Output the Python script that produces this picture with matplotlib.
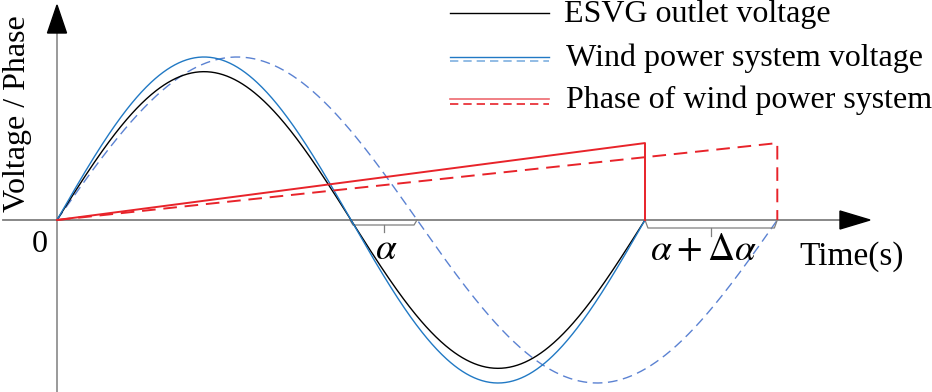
import numpy as np
import matplotlib
matplotlib.use("Agg")
import matplotlib.pyplot as plt
from matplotlib.patches import Polygon

plt.rcParams['font.family'] = ['Liberation Serif', 'DejaVu Serif']
plt.rcParams['mathtext.fontset'] = 'stix'

# ---- data (time in ms, voltage/phase in per unit) ----
grid_period = 20.0          # wind power system voltage period (solid)
shifted_period = 24.5       # shifted voltage period (dashed)
amp_wind = 1.0
amp_esvg = 0.91
amp_shift = 1.0
phase_max = 0.472
legend_labels = ["ESVG outlet voltage", "Wind power system voltage", "Phase of wind power system"]

t1 = np.linspace(0, grid_period, 600)
t2 = np.linspace(0, shifted_period, 600)
v_wind = amp_wind * np.sin(2 * np.pi * t1 / grid_period)
v_esvg = amp_esvg * np.sin(2 * np.pi * t1 / grid_period)
v_shift = amp_shift * np.sin(2 * np.pi * t2 / shifted_period)
phase_t1 = [0, grid_period, grid_period]
phase_v1 = [0, phase_max, 0]
phase_t2 = [0, shifted_period, shifted_period]
phase_v2 = [0, phase_max, 0]

# ---- figure ----
W, H = 932, 392
fig = plt.figure(figsize=(W / 100, H / 100), dpi=100)
ax = fig.add_axes([0, 0, 1, 1])
px_x = 29.4   # px per ms
px_y = 163.0  # px per unit
x0, y0 = 57, 220
ax.set_xlim(-x0 / px_x, (W - x0) / px_x)
ax.set_ylim(-(H - y0) / px_y, y0 / px_y)
ax.axis('off')

def X(p):  # pixel -> data x
    return (p - x0) / px_x
def Y(p):
    return (y0 - p) / px_y

blue = '#2179c4'
blue_d = '#5b82d2'
red = '#e8232a'
gray = '#7f7f7f'
FS = 23

# axes
ax.plot([X(3), X(845)], [0, 0], color=gray, lw=1.3, zorder=1)
ax.plot([0, 0], [Y(25), Y(392)], color=gray, lw=1.1, zorder=1)
ax.add_patch(Polygon([[X(840), Y(211)], [X(870), 0], [X(840), Y(229)]], closed=True, color='black', zorder=5))
ax.add_patch(Polygon([[X(47.5), Y(33)], [0, Y(5)], [X(66.5), Y(33)]], closed=True, color='black', zorder=5))

# curves
ax.plot(t2, v_shift, color=blue_d, lw=1.0, ls=(0, (7, 4)), zorder=2)
ax.plot(t1, v_esvg, color='black', lw=1.0, zorder=3)
ax.plot(t1, v_wind, color=blue, lw=1.0, zorder=3)
ax.plot(phase_t2, phase_v2, color=red, lw=1.4, ls=(0, (7, 4)), zorder=4)
ax.plot(phase_t1, phase_v1, color=red, lw=1.4, zorder=4)

# brackets
def bracket(xa, xb, ylev, tick):
    ax.plot([xa, xa + 0.1, xb - 0.1, xb], [0, Y(ylev), Y(ylev), 0], color=gray, lw=0.9, zorder=2)
    xm = (xa + xb) / 2
    ax.plot([xm, xm], [Y(ylev), Y(ylev + tick)], color=gray, lw=0.9, zorder=2)

bracket(X(350), X(417), 225, 7)
bracket(grid_period, shifted_period, 228, 8)

ax.text(X(386), Y(250), r'$\alpha$', fontsize=27, ha='center', va='center')
ax.text(X(703), Y(251), r'$\alpha+\Delta\alpha$', fontsize=27, ha='center', va='center')
ax.text(X(852), Y(257), 'Time(s)', fontsize=24, ha='center', va='center')
ax.text(X(40), Y(245), '0', fontsize=FS, ha='center', va='center')
ax.text(X(18), Y(114), 'Voltage / Phase', fontsize=FS, ha='center', va='center', rotation=90)

# legend (hand drawn)
lx = [X(450), X(549)]
ax.plot(lx, [Y(13), Y(13)], color='black', lw=1.0)
ax.plot(lx, [Y(57), Y(57)], color=blue, lw=1.0)
ax.plot(lx, [Y(61), Y(61)], color='#7fb0e0', lw=1.2, ls=(0, (5, 3)))
ax.plot(lx, [Y(99), Y(99)], color='#ee6a70', lw=1.2)
ax.plot(lx, [Y(104), Y(104)], color=red, lw=1.2, ls=(0, (5, 3)))
ax.text(X(564), Y(15), legend_labels[0], fontsize=FS, ha='left', va='center')
ax.text(X(566), Y(58), legend_labels[1], fontsize=FS, ha='left', va='center')
ax.text(X(566), Y(100), legend_labels[2], fontsize=FS, ha='left', va='center')

fig.savefig('out.png', dpi=100)
